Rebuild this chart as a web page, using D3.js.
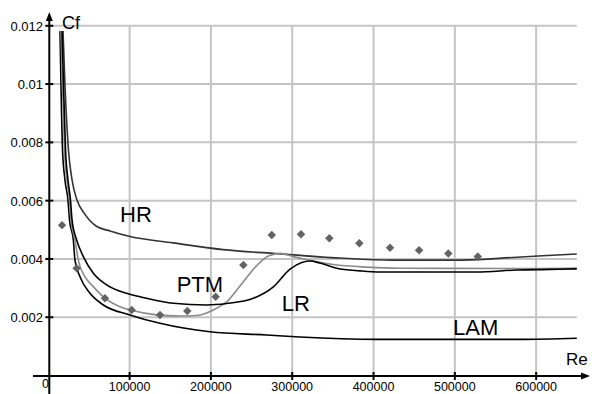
<!DOCTYPE html>
<html>
<head>
<meta charset="utf-8">
<script src="https://cdn.jsdelivr.net/npm/d3@7"></script>
<style>
  html, body { margin: 0; padding: 0; background: #fff; }
  svg { display: block; font-family: Arial, "Liberation Sans", sans-serif; }
</style>
</head>
<body>
<div id="chart"></div>
<script>
// Reynolds number ticks / friction coefficient ticks
const reTicks = [100000, 200000, 300000, 400000, 500000, 600000]
const cfTicks = [0.002, 0.004, 0.006, 0.008, 0.01, 0.012]

// measured points (diamonds)
const expRe = [16900, 34900, 69700, 102600, 137400, 171000, 205900, 239900,
  274800, 310800, 345600, 382500, 420300, 456000, 492000, 528200]
const expCf = [0.00516, 0.00368, 0.00265, 0.00225, 0.00208, 0.00221, 0.0027, 0.00379,
  0.00482, 0.00485, 0.00471, 0.00454, 0.00438, 0.0043, 0.00419, 0.00408]

// laminar
const lamRe = [14400, 15600, 17500, 20500, 24200, 26100, 30800, 32800, 39000, 51300,
  67700, 100500, 137400, 198900, 268600, 309600, 403900, 580200, 650000]
const lamCf = [0.01182, 0.00997, 0.00774, 0.00671, 0.00602, 0.00534, 0.00465, 0.00396,
  0.00339, 0.00282, 0.00242, 0.00208, 0.00179, 0.0015, 0.00139, 0.00132, 0.00124,
  0.00124, 0.00128]

// PTM transition model
const ptmRe = [15600, 17500, 19900, 23000, 26100, 27900, 32800, 36900, 45100, 55400,
  67700, 88200, 104600, 133300, 162000, 182500, 203000, 219400, 235800, 256300,
  270600, 285000, 301400, 313700, 350600, 391600, 432600, 580200, 650000]
const ptmCf = [0.01182, 0.00997, 0.00774, 0.00671, 0.00602, 0.00534, 0.00465, 0.00396,
  0.00339, 0.00305, 0.0027, 0.00236, 0.00222, 0.00208, 0.00204, 0.00206, 0.00225,
  0.00253, 0.00307, 0.00377, 0.0041, 0.00419, 0.00408, 0.004, 0.00381, 0.00372,
  0.00368, 0.00367, 0.00369]

// low Reynolds model
const lrRe = [16900, 18700, 21200, 24200, 27300, 29200, 34900, 43100, 55400, 71800,
  96400, 121000, 153800, 194800, 219400, 252200, 276800, 297300, 311700, 321900,
  334200, 354700, 383400, 408000, 526900, 576100, 617100, 650000]
const lrCf = [0.01182, 0.00997, 0.00774, 0.00671, 0.00602, 0.00534, 0.00465, 0.00408,
  0.00351, 0.00311, 0.00282, 0.00265, 0.00248, 0.00242, 0.00247, 0.00265, 0.00304,
  0.00365, 0.00388, 0.00393, 0.00386, 0.00368, 0.00359, 0.00355, 0.00355, 0.00362,
  0.00364, 0.00366]

// high Reynolds model
const hrRe = [18100, 20500, 24800, 29200, 35300, 43900, 58700, 75900, 100500, 153400,
  214900, 276400, 358800, 422800, 510100, 576500, 650000]
const hrCf = [0.01182, 0.00997, 0.00774, 0.00671, 0.00602, 0.00558, 0.00513, 0.00496,
  0.00477, 0.00455, 0.00432, 0.00419, 0.00403, 0.00396, 0.00396, 0.00406, 0.00417]

const width = 592
const height = 394

const svg = d3.select("#chart")
  .append("svg")
  .attr("width", width)
  .attr("height", height)

const x = d3.scaleLinear()
  .domain([0, 650000])
  .range([48.3, 576.8])

const y = d3.scaleLinear()
  .domain([0, 0.012])
  .range([375.5, 25.8])

// grid
svg.append("g")
  .selectAll("line")
  .data(reTicks)
  .join("line")
  .attr("x1", (d) => x(d))
  .attr("x2", (d) => x(d))
  .attr("y1", y(0.012))
  .attr("y2", y(0))
  .attr("stroke", "#c4c4c4")
  .attr("stroke-width", 2)

svg.append("g")
  .selectAll("line")
  .data(cfTicks)
  .join("line")
  .attr("x1", x(0))
  .attr("x2", x(650000))
  .attr("y1", (d) => y(d))
  .attr("y2", (d) => y(d))
  .attr("stroke", "#c4c4c4")
  .attr("stroke-width", 2)

// axes with arrows
const axisX = x(0) + 1
const axisY = y(0) + 0.5

svg.append("line")
  .attr("x1", axisX).attr("x2", axisX)
  .attr("y1", height).attr("y2", 18)
  .attr("stroke", "#000").attr("stroke-width", 2)

svg.append("path")
  .attr("d", `M${axisX},12 L${axisX - 3.5},21 L${axisX + 3.5},21 Z`)
  .attr("fill", "#000")

svg.append("line")
  .attr("x1", 33).attr("x2", 584)
  .attr("y1", axisY).attr("y2", axisY)
  .attr("stroke", "#000").attr("stroke-width", 2)

svg.append("path")
  .attr("d", `M590,${axisY} L581,${axisY - 3.5} L581,${axisY + 3.5} Z`)
  .attr("fill", "#000")

// ticks
svg.append("g")
  .selectAll("line")
  .data(cfTicks)
  .join("line")
  .attr("x1", axisX - 4)
  .attr("x2", axisX + 4)
  .attr("y1", (d) => y(d))
  .attr("y2", (d) => y(d))
  .attr("stroke", "#000")
  .attr("stroke-width", 2)

svg.append("g")
  .selectAll("line")
  .data(reTicks)
  .join("line")
  .attr("x1", (d) => x(d))
  .attr("x2", (d) => x(d))
  .attr("y1", axisY - 4)
  .attr("y2", axisY + 4)
  .attr("stroke", "#000")
  .attr("stroke-width", 2)

// tick labels
svg.append("g")
  .selectAll("text")
  .data(cfTicks)
  .join("text")
  .attr("x", 43)
  .attr("y", (d) => y(d) + 5)
  .attr("text-anchor", "end")
  .attr("font-size", 13)
  .text((d) => String(d))

svg.append("g")
  .selectAll("text")
  .data(reTicks)
  .join("text")
  .attr("x", (d) => x(d))
  .attr("y", 391)
  .attr("text-anchor", "middle")
  .attr("font-size", 12.5)
  .text((d) => String(d))

svg.append("text")
  .attr("x", 45.5)
  .attr("y", 388)
  .attr("text-anchor", "middle")
  .attr("font-size", 12.5)
  .text("0")

svg.append("text")
  .attr("x", 62).attr("y", 29)
  .attr("font-size", 18)
  .text("Cf")

svg.append("text")
  .attr("x", 566).attr("y", 365)
  .attr("font-size", 17)
  .text("Re")

// curves
const lineGenerator = d3.line()
  .x((d) => x(d[0]))
  .y((d) => y(d[1]))
  .curve(d3.curveMonotoneX)

const series = [
  { re: hrRe, cf: hrCf, color: "#333" },
  { re: lamRe, cf: lamCf, color: "#000" },
  { re: ptmRe, cf: ptmCf, color: "#8a8a8a" },
  { re: lrRe, cf: lrCf, color: "#000" },
]

series.forEach(({ re, cf, color }) => {
  svg.append("path")
    .datum(d3.zip(re, cf))
    .attr("fill", "none")
    .attr("stroke", color)
    .attr("stroke-width", 1.6)
    .attr("d", lineGenerator)
})

// measured diamonds
svg.append("g")
  .selectAll("path")
  .data(d3.zip(expRe, expCf))
  .join("path")
  .attr("transform", (d) => `translate(${x(d[0])},${y(d[1])}) rotate(45)`)
  .attr("d", "M-3,-3 H3 V3 H-3 Z")
  .attr("fill", "#636363")

// curve labels
const labels = [
  { text: "HR", re: 88200, cf: 0.00527 },
  { text: "PTM", re: 157900, cf: 0.00286 },
  { text: "LR", re: 287100, cf: 0.00221 },
  { text: "LAM", re: 497800, cf: 0.00139 },
]

svg.append("g")
  .selectAll("text")
  .data(labels)
  .join("text")
  .attr("x", (d) => x(d.re))
  .attr("y", (d) => y(d.cf))
  .attr("font-size", 22)
  .text((d) => d.text)
</script>
</body>
</html>
